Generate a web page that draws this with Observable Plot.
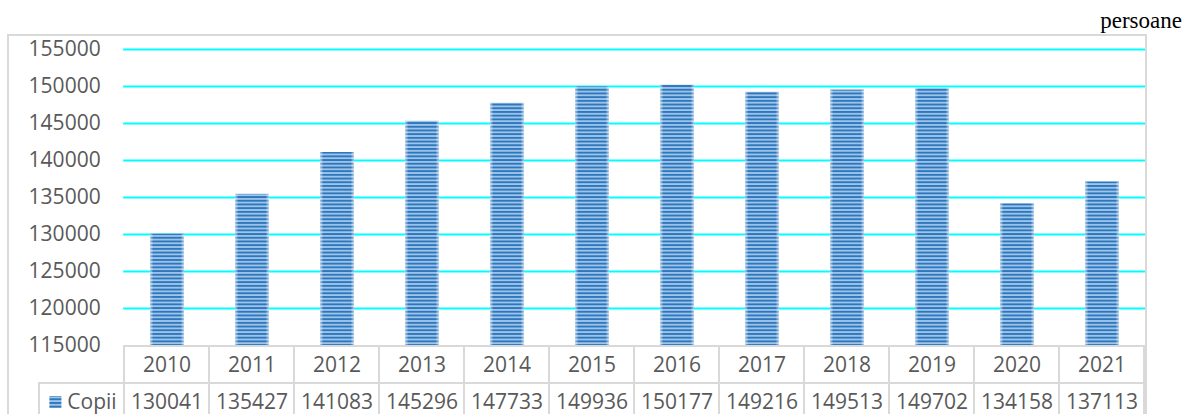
<!DOCTYPE html>
<html><head><meta charset="utf-8">
<script src="https://cdn.jsdelivr.net/npm/d3@7"></script>
<script src="https://cdn.jsdelivr.net/npm/@observablehq/plot@0.6"></script>
<style>
html,body{margin:0;padding:0;overflow:hidden;background:#fff;width:1184px;height:414px;}
#wrap{position:relative;width:1184px;height:414px;overflow:hidden;}
#unit{position:absolute;right:2px;top:10px;line-height:22px;font-family:"Liberation Serif","Times New Roman",serif;font-size:23px;color:#000;}
#frame{position:absolute;left:7px;top:34px;width:1136px;height:420px;border:2px solid #d9d9d9;}
.p{position:absolute;left:0;}
</style></head><body><div id="wrap"><div id="frame"></div><div id="unit"></div></div>
<script>
const years = ["2010","2011","2012","2013","2014","2015","2016","2017","2018","2019","2020","2021"];
const values = [130041,135427,141083,145296,147733,149936,150177,149216,149513,149702,134158,137113];
const yTicks = [115000,120000,125000,130000,135000,140000,145000,150000,155000];
const seriesName = "Copii";
const unitLabel = "persoane";

document.getElementById("unit").textContent = unitLabel;
const data = years.map((year, i) => ({year, value: values[i]}));
const txt = "#595959";
const font = "'Open Sans', 'DejaVu Sans', sans-serif";

const chart = Plot.plot({
  width: 1184, height: 362,
  marginTop: 49, marginBottom: 17, marginLeft: 123.15, marginRight: 39,
  style: {background: "transparent", fontFamily: font, overflow: "visible"},
  x: {domain: years, paddingInner: 0.6, paddingOuter: 0.3, axis: null},
  y: {domain: [yTicks[0], yTicks[yTicks.length - 1]], axis: null},
  marks: [
    Plot.ruleY(yTicks.filter(t => t > yTicks[0]), {stroke: "#00ffff", strokeWidth: 2}),
    Plot.barY(data, {x: "year", y: "value", fill: "url(#stripes)", clip: true}),
    Plot.barY(data, {x: "year", y: "value", fill: "url(#edges)", clip: true}),
    Plot.axisY(yTicks, {label: null, tickSize: 0, tickPadding: 23, tickFormat: d3.format("d"), fontSize: 21, fill: txt})
  ]
});
chart.classList.add("p");
chart.style.top = "0px";

const defs = d3.select(chart).insert("defs", ":first-child");
const pat = defs.append("pattern").attr("id", "stripes").attr("patternUnits", "userSpaceOnUse")
  .attr("width", 10).attr("height", 3.7);
pat.append("rect").attr("width", 10).attr("height", 3.7).attr("fill", "#9fc6ea");
pat.append("rect").attr("width", 10).attr("height", 1.9).attr("fill", "#2e77bd");
const grad = defs.append("linearGradient").attr("id", "edges").attr("x1", 0).attr("x2", 1).attr("y1", 0).attr("y2", 0);
grad.append("stop").attr("offset", "0").attr("stop-color", "#ffffff").attr("stop-opacity", 0.6);
grad.append("stop").attr("offset", "0.1").attr("stop-color", "#ffffff").attr("stop-opacity", 0);
grad.append("stop").attr("offset", "0.9").attr("stop-color", "#ffffff").attr("stop-opacity", 0);
grad.append("stop").attr("offset", "1").attr("stop-color", "#ffffff").attr("stop-opacity", 0.6);

const rows = ["year", "value"];
const cells = [];
years.forEach((y, i) => {
  cells.push({col: y, row: "year", text: y});
  cells.push({col: y, row: "value", text: String(values[i])});
});
const legendCell = [{col: "", row: "value"}];

const table = Plot.plot({
  width: 1184, height: 75,
  marginTop: 0, marginBottom: 0, marginLeft: 38, marginRight: 39,
  style: {background: "transparent", fontFamily: font},
  x: {domain: ["", ...years], padding: 0, axis: null},
  y: {domain: rows, padding: 0, axis: null},
  marks: [
    Plot.cell(cells.concat(legendCell), {x: "col", y: "row", fill: "none", stroke: "#d9d9d9", strokeWidth: 2, inset: 0}),
    Plot.text(cells, {x: "col", y: "row", text: "text", fontSize: 21, fill: txt}),
    Plot.dot(legendCell, {x: "col", y: "row", symbol: "square", r: 6.8, fill: "url(#stripes)", dx: -26.6}),
    Plot.text(legendCell, {x: "col", y: "row", text: () => seriesName, fontSize: 21, fill: txt, dx: 10})
  ]
});
table.classList.add("p");
table.style.top = "345px";

const wrap = document.getElementById("wrap");
wrap.appendChild(chart);
wrap.appendChild(table);
</script>
</body></html>
